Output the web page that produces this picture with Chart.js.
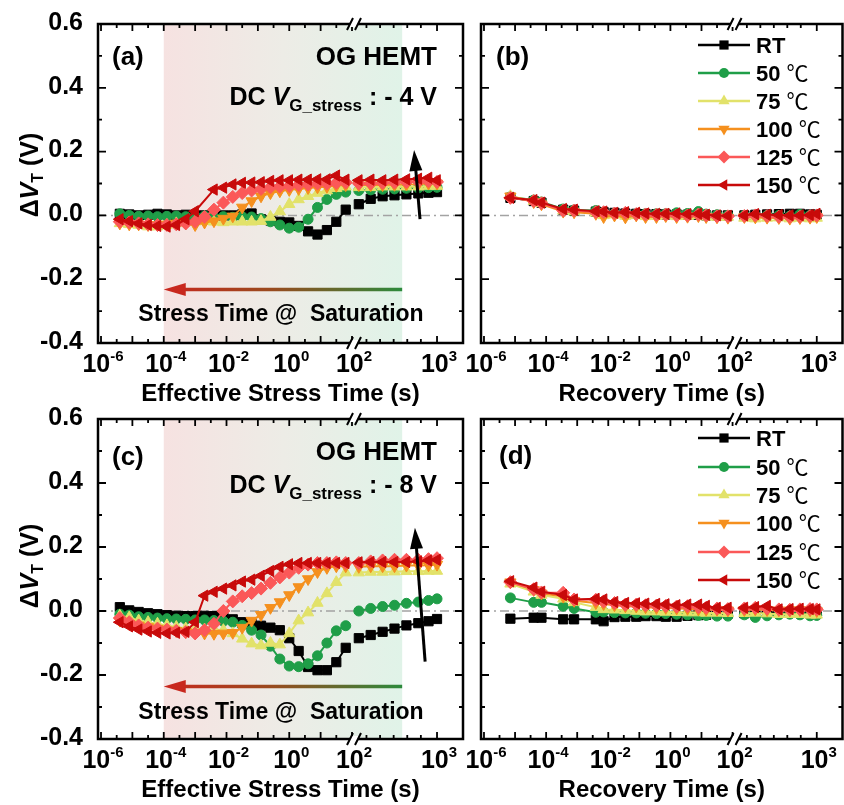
<!DOCTYPE html>
<html>
<head>
<meta charset="utf-8">
<title>OG HEMT threshold-voltage shift</title>
<script src="https://cdn.jsdelivr.net/npm/chart.js@4.4.1/dist/chart.umd.min.js"></script>
<style>
  html, body { margin: 0; padding: 0; background: #ffffff; }
  #wrap { position: relative; width: 844px; height: 805px; overflow: hidden; background: #ffffff; }
  #wrap canvas { position: absolute; left: 0; top: 0; }
</style>
</head>
<body>
<div id="wrap">
  <canvas id="pa" width="850" height="805"></canvas>
  <canvas id="pb" width="850" height="805"></canvas>
  <canvas id="pc" width="850" height="805"></canvas>
  <canvas id="pd" width="850" height="805"></canvas>
</div>
<script>
// ---------- time grids, log10(t / s) ----------
const stressLogT = [-5.4, -5.1, -4.8, -4.5, -4.2, -3.9, -3.6, -3.3, -3.0, -2.7,
                    -2.4, -2.1, -1.8, -1.5, -1.2, -0.9, -0.6, -0.3, 0.0, 0.3,
                    0.6, 0.9, 1.2, 1.5, 1.8,
                    2.08, 2.22, 2.36, 2.5, 2.64, 2.78, 2.9, 3.0];
const recoveryLogT = [-5.15, -4.4, -4.15, -3.45, -3.1, -2.4, -2.15, -1.8, -1.45, -1.1,
                      -0.8, -0.45, -0.15, 0.2, 0.55, 0.9, 1.15, 1.5, 1.85,
                      2.14, 2.27, 2.41, 2.55, 2.68, 2.8, 2.92, 3.0];

// ---------- (a) stress, VG = -4 V : delta VT (V) ----------
const stressA_RT  = [0.005, 0.003, 0.0, 0.002, 0.005, 0.003, 0.0, 0.002, 0.0, 0.0,
                     0.005, 0.0, 0.0, 0.003, 0.006, -0.012, -0.016, -0.02, -0.022, -0.033,
                     -0.05, -0.06, -0.046, -0.02, 0.018,
                     0.035, 0.052, 0.06, 0.063, 0.066, 0.069, 0.071, 0.073];
const stressA_50  = [0.005, 0.0, -0.003, -0.002, -0.004, -0.003, -0.002, -0.004, -0.003, -0.002,
                     -0.005, -0.004, -0.006, -0.004, -0.005, -0.01, -0.02, -0.03, -0.04, -0.037,
                     -0.012, 0.025, 0.05, 0.066, 0.073,
                     0.078, 0.08, 0.082, 0.083, 0.085, 0.086, 0.087, 0.088];
const stressA_75  = [-0.025, -0.028, -0.03, -0.035, -0.035, -0.03, -0.025, -0.022, -0.02, -0.018,
                     -0.02, -0.022, -0.02, -0.02, -0.02, -0.018, -0.005, 0.012, 0.035, 0.05,
                     0.06, 0.07, 0.078, 0.085, 0.09,
                     0.088, 0.088, 0.09, 0.09, 0.09, 0.09, 0.092, 0.092];
const stressA_100 = [-0.025, -0.028, -0.028, -0.03, -0.03, -0.028, -0.025, -0.025, -0.03, -0.022,
                     -0.018, -0.01, -0.003, 0.025, 0.045, 0.06, 0.07, 0.076, 0.08, 0.083,
                     0.086, 0.088, 0.09, 0.093, 0.095,
                     0.095, 0.095, 0.095, 0.096, 0.097, 0.098, 0.1, 0.1];
const stressA_125 = [-0.02, -0.022, -0.025, -0.028, -0.03, -0.03, -0.028, -0.025, -0.02, -0.005,
                     0.018, 0.04, 0.058, 0.07, 0.078, 0.083, 0.088, 0.09, 0.092, 0.095,
                     0.097, 0.1, 0.1, 0.102, 0.103,
                     0.1, 0.1, 0.102, 0.103, 0.105, 0.106, 0.107, 0.105];
const stressA_150 = [-0.012, -0.018, -0.025, -0.03, -0.033, -0.035, -0.03, -0.012, 0.013, null,
                     0.081, 0.087, 0.097, 0.102, 0.103, 0.104, 0.108, 0.11, 0.11, 0.112,
                     0.112, 0.113, 0.113, 0.125, 0.112,
                     0.11, 0.112, 0.11, 0.112, 0.113, 0.115, 0.118, 0.11];

// ---------- (b) recovery after -4 V stress ----------
const recovB_RT  = [0.055, 0.045, 0.04, 0.018, 0.015, 0.012, 0.01, 0.008, 0.006, 0.005,
                    0.004, 0.004, 0.003, 0.003, 0.002, 0.002, 0.0, 0.0, 0.0,
                    0.0, 0.002, 0.003, 0.004, 0.005, 0.005, 0.003, 0.002];
const recovB_50  = [0.058, 0.048, 0.042, 0.02, 0.017, 0.015, 0.008, 0.006, 0.006, 0.004,
                    0.005, 0.005, 0.005, 0.008, 0.006, 0.012, 0.004, 0.002, 0.0,
                    0.0, -0.002, 0.0, 0.0, -0.002, 0.003, 0.0, 0.0];
const recovB_75  = [0.06, 0.045, 0.038, 0.015, 0.012, 0.008, 0.0, 0.002, -0.002, 0.0,
                    -0.003, -0.002, 0.0, -0.003, -0.002, 0.0, -0.004, -0.005, -0.005,
                    -0.008, -0.01, -0.008, -0.007, -0.01, -0.008, -0.01, -0.008];
const recovB_100 = [0.06, 0.042, 0.035, 0.012, 0.01, 0.005, -0.005, 0.0, -0.006, 0.0,
                    -0.005, -0.005, -0.002, -0.005, -0.004, -0.002, -0.005, -0.006, -0.007,
                    -0.005, -0.006, -0.007, -0.008, -0.01, -0.008, -0.007, -0.005];
const recovB_125 = [0.055, 0.045, 0.038, 0.015, 0.015, 0.01, 0.01, 0.006, 0.008, 0.004,
                    0.003, 0.002, 0.003, 0.0, 0.0, 0.003, 0.0, -0.003, -0.003,
                    -0.002, 0.0, -0.002, -0.004, -0.005, -0.004, -0.002, 0.0];
const recovB_150 = [0.055, 0.048, 0.04, 0.02, 0.018, 0.013, 0.012, 0.008, 0.01, 0.008,
                    0.006, 0.005, 0.005, 0.006, 0.004, 0.005, 0.002, 0.0, -0.001,
                    0.0, 0.004, 0.002, 0.001, 0.0, 0.0, 0.001, 0.005];

// ---------- (c) stress, VG = -8 V ----------
const stressC_RT  = [0.012, 0.002, -0.003, -0.007, -0.01, -0.013, -0.015, -0.016, -0.016, -0.015,
                     -0.016, -0.02, -0.026, -0.035, -0.04, -0.046, -0.052, -0.06, -0.085, -0.125,
                     -0.175, -0.185, -0.185, -0.16, -0.115,
                     -0.085, -0.075, -0.065, -0.055, -0.045, -0.038, -0.032, -0.025];
const stressC_50  = [-0.01, -0.013, -0.018, -0.02, -0.022, -0.024, -0.025, -0.026, -0.028, -0.028,
                     -0.03, -0.032, -0.035, -0.045, -0.06, -0.075, -0.11, -0.15, -0.172, -0.174,
                     -0.165, -0.14, -0.1, -0.062, -0.046,
                     0.0, 0.008, 0.014, 0.018, 0.024, 0.028, 0.033, 0.038];
const stressC_75  = [-0.015, -0.02, -0.03, -0.035, -0.04, -0.045, -0.05, -0.055, -0.058, -0.058,
                     -0.057, -0.06, -0.07, -0.087, -0.102, -0.108, -0.1, -0.105, -0.07, -0.03,
                     -0.005, 0.025, 0.055, 0.09, 0.12,
                     0.12, 0.122, 0.122, 0.123, 0.124, 0.124, 0.125, 0.125];
const stressC_100 = [-0.03, -0.04, -0.045, -0.05, -0.055, -0.06, -0.062, -0.065, -0.068, -0.07,
                     -0.071, -0.07, -0.068, -0.052, -0.03, -0.012, 0.01, 0.028, 0.05, 0.075,
                     0.1, 0.122, 0.135, 0.14, 0.14,
                     0.138, 0.14, 0.14, 0.14, 0.142, 0.142, 0.143, 0.145];
const stressC_125 = [-0.022, -0.035, -0.045, -0.052, -0.055, -0.058, -0.062, -0.066, -0.07, -0.06,
                     -0.04, 0.0, 0.03, 0.046, 0.056, 0.07, 0.088, 0.105, 0.12, 0.135,
                     0.145, 0.15, 0.15, 0.152, 0.15,
                     0.15, 0.155, 0.158, 0.16, 0.16, 0.16, 0.162, 0.165];
const stressC_150 = [-0.035, -0.048, -0.058, -0.064, -0.068, -0.07, -0.068, -0.065, -0.035, 0.048,
                     0.06, 0.07, 0.08, 0.092, 0.098, 0.11, 0.125, 0.138, 0.146, 0.15,
                     0.15, 0.15, 0.15, 0.15, 0.15,
                     0.152, 0.153, 0.153, 0.153, 0.153, 0.155, 0.158, 0.16];

// ---------- (d) recovery after -8 V stress ----------
const recovD_RT  = [-0.024, -0.021, -0.021, -0.026, -0.026, -0.026, -0.032, -0.019, -0.018, -0.018,
                    -0.016, -0.016, -0.018, -0.018, -0.015, -0.013, -0.012, -0.01, -0.008,
                    -0.007, -0.006, -0.005, -0.004, -0.004, -0.003, -0.003, -0.002];
const recovD_50  = [0.041, 0.027, 0.027, 0.015, 0.008, -0.004, -0.003, -0.005, -0.006, -0.006,
                    -0.007, -0.008, -0.008, -0.01, -0.012, -0.014, -0.014, -0.016, -0.016,
                    -0.012, -0.02, -0.015, -0.012, -0.01, -0.012, -0.015, -0.014];
const recovD_75  = [0.085, 0.06, 0.05, 0.038, 0.027, 0.012, 0.005, 0.004, 0.002, 0.0,
                    -0.002, -0.002, -0.003, -0.004, -0.005, -0.005, -0.006, -0.006, -0.007,
                    -0.007, -0.006, -0.008, -0.01, -0.01, -0.01, -0.012, -0.012];
const recovD_100 = [0.09, 0.066, 0.055, 0.045, 0.032, 0.025, 0.022, 0.018, 0.015, 0.014,
                    0.012, 0.01, 0.01, 0.008, 0.007, 0.005, 0.004, 0.004, 0.002,
                    0.003, 0.005, 0.003, 0.002, 0.002, 0.003, 0.002, 0.0];
const recovD_125 = [0.09, 0.068, 0.058, 0.057, 0.036, 0.035, 0.03, 0.025, 0.02, 0.02,
                    0.018, 0.017, 0.016, 0.014, 0.015, 0.012, 0.01, 0.008, 0.006,
                    0.008, 0.01, 0.008, 0.005, 0.004, 0.005, 0.006, 0.005];
const recovD_150 = [0.093, 0.073, 0.06, 0.05, 0.036, 0.038, 0.036, 0.028, 0.025, 0.024,
                    0.023, 0.022, 0.021, 0.018, 0.02, 0.02, 0.016, 0.01, 0.01,
                    0.01, 0.012, 0.016, 0.005, 0.006, 0.007, 0.006, 0.005];

// ---------- labels and ticks ----------
const seriesNames = ['RT', '50', '75', '100', '125', '150'];
const yTickValues = [-0.4, -0.2, 0.0, 0.2, 0.4, 0.6];
const xTickExponents = [-6, -4, -2, 0, 2, 3];

// ---------- appearance ----------
const seriesColors = ['#000000', '#1f9e48', '#e2e26a', '#f5901e', '#fb5858', '#c80a0a'];
const markerStyles = [
  { pointStyle: 'rect',     rotation: 0,   radius: 6.5 },
  { pointStyle: 'circle',   rotation: 0,   radius: 5   },
  { pointStyle: 'triangle', rotation: 0,   radius: 6.5 },
  { pointStyle: 'triangle', rotation: 180, radius: 6.5 },
  { pointStyle: 'rectRot',  rotation: 0,   radius: 6.5 },
  { pointStyle: 'triangle', rotation: 270, radius: 6.5 }
];
const FAM = '"Liberation Sans", Arial, "Noto Sans CJK SC", sans-serif';
const B  = s => `bold ${s}px ${FAM}`;
const BI = s => `italic bold ${s}px ${FAM}`;
const DEG = s => `${s}px "Noto Sans CJK SC", ${FAM}`;

// Broken log axis: decades up to 10^2 on a compressed scale, 10^2..10^3 stretched.
const BREAK_EXP = 2;
const STRETCH = 2.71;
function axisPos(e) { return e <= BREAK_EXP ? e : BREAK_EXP + (e - BREAK_EXP) * STRETCH; }
const X_MIN = -6.096, X_MAX = 5.538;

// ---------- drawing helpers ----------
function richText(ctx, parts, x, y, align) {
  let w = 0;
  parts.forEach(p => { ctx.font = p.f; p.w = ctx.measureText(p.t).width; w += p.w; });
  let cx = align === 'right' ? x - w : (align === 'center' ? x - w / 2 : x);
  ctx.textAlign = 'left';
  ctx.textBaseline = 'alphabetic';
  parts.forEach(p => { ctx.font = p.f; ctx.fillText(p.t, cx, y + (p.dy || 0)); cx += p.w; });
  return w;
}

function drawMarker(ctx, m, x, y, color) {
  const r = m.radius;
  ctx.save();
  ctx.fillStyle = color;
  ctx.beginPath();
  if (m.pointStyle === 'circle') {
    ctx.arc(x, y, r, 0, Math.PI * 2);
  } else if (m.pointStyle === 'rect') {
    const s = r * Math.SQRT1_2;
    ctx.rect(x - s, y - s, 2 * s, 2 * s);
  } else if (m.pointStyle === 'rectRot') {
    ctx.moveTo(x, y - r); ctx.lineTo(x + r, y); ctx.lineTo(x, y + r); ctx.lineTo(x - r, y); ctx.closePath();
  } else {
    let a = m.rotation * Math.PI / 180;
    for (let k = 0; k < 3; k++) {
      const px = x + Math.sin(a) * r, py = y - Math.cos(a) * r;
      if (k === 0) ctx.moveTo(px, py); else ctx.lineTo(px, py);
      a += Math.PI * 2 / 3;
    }
    ctx.closePath();
  }
  ctx.fill();
  ctx.restore();
}

function arrowHead(ctx, tipX, tipY, dirX, dirY, len, half, color) {
  const n = Math.hypot(dirX, dirY); const ux = dirX / n, uy = dirY / n;
  const bx = tipX - ux * len, by = tipY - uy * len;
  ctx.fillStyle = color;
  ctx.beginPath();
  ctx.moveTo(tipX, tipY);
  ctx.lineTo(bx - uy * half, by + ux * half);
  ctx.lineTo(bx + uy * half, by - ux * half);
  ctx.closePath();
  ctx.fill();
}

// ---------- panel definitions ----------
const panels = [
  {
    id: 'pa', box: [98, 24, 463, 343], logT: stressLogT,
    series: [stressA_RT, stressA_50, stressA_75, stressA_100, stressA_125, stressA_150],
    tag: '(a)', tagX: 112, tagY: 65, yLabels: true, yTitleY: 175,
    xTitle: 'Effective Stress Time (s)',
    stress: { vg: ': - 4 V', ogY: 65, dcY: 105, noteY: 321, arrowV: -0.232,
              upFrom: [2.8, -0.012], upTo: [2.73, 0.205] }
  },
  {
    id: 'pb', box: [481, 24, 846, 343], logT: recoveryLogT,
    series: [recovB_RT, recovB_50, recovB_75, recovB_100, recovB_125, recovB_150],
    tag: '(b)', tagX: 496, tagY: 65, yLabels: false,
    xTitle: 'Recovery Time (s)',
    legendRows: [45, 73, 101, 129, 157, 185]
  },
  {
    id: 'pc', box: [98, 419, 463, 739], logT: stressLogT,
    series: [stressC_RT, stressC_50, stressC_75, stressC_100, stressC_125, stressC_150],
    tag: '(c)', tagX: 112, tagY: 465, yLabels: true, yTitleY: 566,
    xTitle: 'Effective Stress Time (s)',
    stress: { vg: ': - 8 V', ogY: 460, dcY: 493, noteY: 719, arrowV: -0.236,
              upFrom: [2.86, -0.158], upTo: [2.74, 0.26] }
  },
  {
    id: 'pd', box: [481, 419, 846, 739], logT: recoveryLogT,
    series: [recovD_RT, recovD_50, recovD_75, recovD_100, recovD_125, recovD_150],
    tag: '(d)', tagX: 499, tagY: 464, yLabels: false,
    xTitle: 'Recovery Time (s)',
    legendRows: [438, 467, 495, 523, 552, 580]
  }
];

// ---------- decorations drawn around each panel ----------
const panelDecor = {
  id: 'panelDecor',
  beforeDatasetsDraw(chart, args, opts) {
    const p = opts.panel;
    const { ctx, chartArea: ca } = chart;
    const xs = chart.scales.x, ys = chart.scales.y;
    ctx.save();
    if (p.stress) {
      const x0 = xs.getPixelForValue(axisPos(-4));
      const x1 = xs.getPixelForValue(axisPos(2.59));
      const g = ctx.createLinearGradient(x0, 0, x1, 0);
      g.addColorStop(0, 'rgb(246,226,225)');
      g.addColorStop(0.5, 'rgb(237,236,230)');
      g.addColorStop(1, 'rgb(224,243,232)');
      ctx.fillStyle = g;
      ctx.fillRect(x0, ca.top, x1 - x0, ca.bottom - ca.top);
    }
    // zero reference line
    const y0 = ys.getPixelForValue(0);
    ctx.strokeStyle = '#a3a3a3';
    ctx.lineWidth = 1.5;
    ctx.setLineDash([9, 4, 2, 4]);
    ctx.beginPath(); ctx.moveTo(ca.left, y0); ctx.lineTo(ca.right, y0); ctx.stroke();
    ctx.restore();
  },
  afterDatasetsDraw(chart, args, opts) {
    const p = opts.panel;
    const { ctx, chartArea: ca } = chart;
    const xs = chart.scales.x, ys = chart.scales.y;
    ctx.save();
    ctx.fillStyle = '#000'; ctx.strokeStyle = '#000';

    // frame
    ctx.lineWidth = 2.5;
    ctx.strokeRect(ca.left, ca.top, ca.right - ca.left, ca.bottom - ca.top);

    // y ticks, inward on both sides
    ctx.lineWidth = 1.8;
    for (let v = -0.4; v <= 0.6001; v += 0.1) {
      const y = ys.getPixelForValue(v);
      const major = Math.abs(Math.round(v * 10)) % 2 === 0;
      const len = major ? 8 : 4;
      ctx.beginPath();
      ctx.moveTo(ca.left, y); ctx.lineTo(ca.left + len, y);
      ctx.moveTo(ca.right, y); ctx.lineTo(ca.right - len, y);
      ctx.stroke();
    }
    // x ticks, inward on top and bottom
    const xt = [];
    for (let e = -6; e <= 2; e += 0.5) xt.push([axisPos(e), Number.isInteger(e) ? 7 : 4]);
    [2.17, 2.33, 2.49, 2.65, 2.81].forEach(e => xt.push([axisPos(e), 4]));
    xt.push([axisPos(3), 7]);
    xt.forEach(([u, len]) => {
      const x = xs.getPixelForValue(u);
      ctx.beginPath();
      ctx.moveTo(x, ca.bottom); ctx.lineTo(x, ca.bottom - len);
      ctx.moveTo(x, ca.top); ctx.lineTo(x, ca.top + len);
      ctx.stroke();
    });

    // axis break marks
    const xb = xs.getPixelForValue(axisPos(BREAK_EXP)) + 2;
    [ca.top, ca.bottom].forEach(yb => {
      ctx.fillStyle = '#fff';
      ctx.fillRect(xb - 4, yb - 3, 8, 6);
      ctx.strokeStyle = '#000';
      ctx.lineWidth = 2;
      ctx.beginPath();
      ctx.moveTo(xb - 7, yb + 6); ctx.lineTo(xb - 1, yb - 6);
      ctx.moveTo(xb + 1, yb + 6); ctx.lineTo(xb + 7, yb - 6);
      ctx.stroke();
    });
    ctx.fillStyle = '#000';

    // x tick labels
    xTickExponents.forEach(e => {
      const x = xs.getPixelForValue(axisPos(e));
      richText(ctx, [{ t: '10', f: B(25) }, { t: String(e), f: B(15), dy: -11 }], x + 2, ca.bottom + 29, 'center');
    });
    // y tick labels
    if (p.yLabels) {
      yTickValues.forEach(v => {
        ctx.font = B(25);
        ctx.textAlign = 'right';
        ctx.textBaseline = 'middle';
        ctx.fillText(v.toFixed(1), ca.left - 15, ys.getPixelForValue(v) - 1);
      });
      // y axis title
      ctx.save();
      ctx.translate(38, p.yTitleY);
      ctx.rotate(-Math.PI / 2);
      richText(ctx, [
        { t: '\u0394', f: B(25) },
        { t: 'V', f: BI(25) },
        { t: 'T', f: B(16), dy: 5 },
        { t: ' (V)', f: B(25) }
      ], 0, 0, 'center');
      ctx.restore();
    }
    // x axis title
    richText(ctx, [{ t: p.xTitle, f: B(24) }], (ca.left + ca.right) / 2, ca.bottom + 58, 'center');

    // panel tag
    richText(ctx, [{ t: p.tag, f: B(26) }], p.tagX, p.tagY, 'left');

    if (p.stress) {
      const s = p.stress;
      richText(ctx, [{ t: 'OG HEMT', f: B(26) }], 437, s.ogY, 'right');
      richText(ctx, [
        { t: 'DC ', f: B(25) },
        { t: 'V', f: BI(25) },
        { t: 'G_stress', f: B(17), dy: 6 },
        { t: ' ' + s.vg, f: B(25) }
      ], 437, s.dcY, 'right');

      // saturation arrow
      const xl = xs.getPixelForValue(axisPos(-4));
      const xr = xs.getPixelForValue(axisPos(2.59));
      const ya = ys.getPixelForValue(s.arrowV);
      const g = ctx.createLinearGradient(xl, 0, xr, 0);
      g.addColorStop(0, '#c8281e');
      g.addColorStop(0.45, '#9a4a1e');
      g.addColorStop(1, '#2c8a3c');
      ctx.strokeStyle = g;
      ctx.lineWidth = 3.5;
      ctx.beginPath(); ctx.moveTo(xl + 18, ya); ctx.lineTo(xr, ya); ctx.stroke();
      arrowHead(ctx, xl, ya, -1, 0, 22, 6.5, '#c8281e');
      ctx.fillStyle = '#000';
      richText(ctx, [{ t: 'Stress Time @  Saturation', f: B(23) }], 281, s.noteY, 'center');

      // temperature trend arrow
      const fx = xs.getPixelForValue(axisPos(s.upFrom[0])), fy = ys.getPixelForValue(s.upFrom[1]);
      const tx = xs.getPixelForValue(axisPos(s.upTo[0])), ty = ys.getPixelForValue(s.upTo[1]);
      const dx = tx - fx, dy = ty - fy, n = Math.hypot(dx, dy);
      ctx.strokeStyle = '#000';
      ctx.lineWidth = 3;
      ctx.beginPath(); ctx.moveTo(fx, fy); ctx.lineTo(tx - dx / n * 16, ty - dy / n * 16); ctx.stroke();
      arrowHead(ctx, tx, ty, dx, dy, 21, 6.5, '#000');
    }

    if (p.legendRows) {
      p.legendRows.forEach((ry, i) => {
        ctx.strokeStyle = seriesColors[i];
        ctx.lineWidth = 2.5;
        ctx.beginPath(); ctx.moveTo(698, ry); ctx.lineTo(750, ry); ctx.stroke();
        drawMarker(ctx, markerStyles[i], 724, ry, seriesColors[i]);
        ctx.fillStyle = '#000';
        const parts = i === 0
          ? [{ t: seriesNames[i], f: B(22) }]
          : [{ t: seriesNames[i] + ' ', f: B(22) }, { t: '\u2103', f: DEG(22) }];
        richText(ctx, parts, 756, ry + 8, 'left');
      });
    }
    ctx.restore();
  }
};

// ---------- build the four charts ----------
panels.forEach(p => {
  const canvas = document.getElementById(p.id);
  const [l, t, r, b] = p.box;
  const datasets = p.series.map((vals, i) => ({
    label: seriesNames[i],
    data: p.logT.map((e, j) => ({ x: axisPos(e), y: vals[j] })),
    borderColor: seriesColors[i],
    backgroundColor: seriesColors[i],
    pointBackgroundColor: seriesColors[i],
    pointBorderColor: seriesColors[i],
    pointBorderWidth: 1,
    pointStyle: markerStyles[i].pointStyle,
    rotation: markerStyles[i].rotation,
    pointRadius: markerStyles[i].radius,
    borderWidth: 2,
    tension: 0,
    spanGaps: true,
    order: 5 - i,
    segment: {
      // no line across the axis break
      borderColor: ctx => (ctx.p0.parsed.x < BREAK_EXP && ctx.p1.parsed.x > BREAK_EXP) ? 'rgba(0,0,0,0)' : undefined
    }
  }));
  new Chart(canvas.getContext('2d'), {
    type: 'line',
    data: { datasets },
    options: {
      responsive: false,
      animation: false,
      devicePixelRatio: 1,
      layout: { padding: { left: l, top: t, right: canvas.width - r, bottom: canvas.height - b } },
      scales: {
        x: { type: 'linear', min: X_MIN, max: X_MAX, display: false },
        y: { type: 'linear', min: -0.4, max: 0.6, display: false }
      },
      plugins: {
        legend: { display: false },
        tooltip: { enabled: false },
        panelDecor: { panel: p }
      }
    },
    plugins: [panelDecor]
  });
});
</script>
</body>
</html>
